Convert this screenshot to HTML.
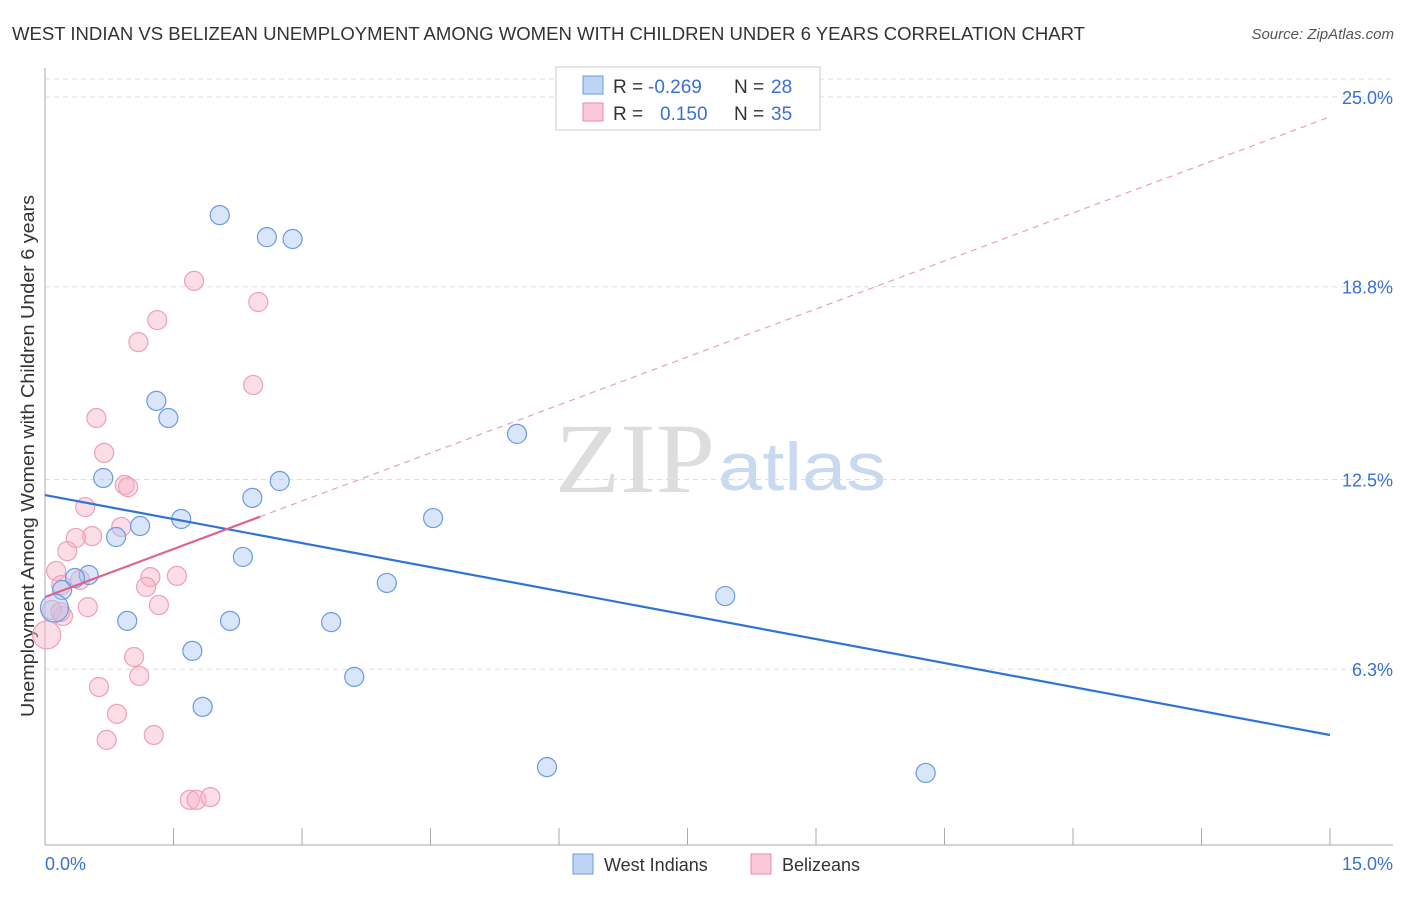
<!DOCTYPE html>
<html><head><meta charset="utf-8"><style>
body{margin:0;background:#fff;font-family:"Liberation Sans",sans-serif}
svg text{font-family:"Liberation Sans",sans-serif}
</style></head><body>
<svg id="c" width="1406" height="892">
<text x="12" y="40" font-size="18" fill="#333" textLength="1073" lengthAdjust="spacingAndGlyphs">WEST INDIAN VS BELIZEAN UNEMPLOYMENT AMONG WOMEN WITH CHILDREN UNDER 6 YEARS CORRELATION CHART</text>
<text x="1394" y="39" font-size="15" fill="#555" text-anchor="end" font-style="italic">Source: ZipAtlas.com</text>
<text x="555" y="492" font-size="100" fill="#ddd" textLength="160" lengthAdjust="spacingAndGlyphs" style="font-family:'Liberation Serif',serif">ZIP</text>
<text x="718" y="490" font-size="68" fill="#c9d9ef" textLength="168" lengthAdjust="spacingAndGlyphs">atlas</text>
<text transform="translate(34,456) rotate(-90)" font-size="18" fill="#333" text-anchor="middle" textLength="522" lengthAdjust="spacingAndGlyphs">Unemployment Among Women with Children Under 6 years</text>
<g id="grid"></g><g id="marks"></g>
<g>
<rect x="556" y="67" width="264" height="63" fill="#fff" stroke="#ccc"/>
<rect x="583" y="76" width="20" height="18" fill="#bdd4f5" stroke="#6b9ae0"/>
<rect x="583" y="103" width="20" height="18" fill="#f9c9d7" stroke="#e88aa8"/>
<text x="613" y="93" font-size="19" fill="#333">R =</text>
<text x="648" y="93" font-size="19" fill="#3a70d0">-0.269</text>
<text x="734" y="93" font-size="19" fill="#333">N =</text>
<text x="771" y="93" font-size="19" fill="#3a70d0">28</text>
<text x="613" y="120" font-size="19" fill="#333">R =</text>
<text x="660" y="120" font-size="19" fill="#3a70d0">0.150</text>
<text x="734" y="120" font-size="19" fill="#333">N =</text>
<text x="771" y="120" font-size="19" fill="#3a70d0">35</text>
</g>
<g>
<rect x="573" y="854" width="20" height="20" fill="#bdd4f5" stroke="#6b9ae0"/>
<text x="604" y="871" font-size="18" fill="#333">West Indians</text>
<rect x="751" y="854" width="20" height="20" fill="#f9c9d7" stroke="#e88aa8"/>
<text x="782" y="871" font-size="18" fill="#333">Belizeans</text>
</g>
</svg>
<script>
const xTicks=[0,15];
const yTicks=[25.0,18.8,12.5,6.3];
const blueX=[2.04,2.59,2.89,1.30,1.44,5.51,0.68,2.74,2.42,1.59,4.53,1.11,0.83,2.31,0.51,0.35,3.99,0.20,7.94,0.96,2.16,3.34,0.11,1.72,3.61,1.84,5.86,10.28];
const blueY=[21.14,20.42,20.36,15.07,14.51,13.99,12.55,12.45,11.90,11.21,11.24,10.98,10.62,9.97,9.38,9.28,9.12,8.89,8.69,7.88,7.88,7.84,8.30,6.90,6.05,5.07,3.10,2.91];
const pinkX=[1.74,2.49,1.31,1.09,2.43,0.60,0.69,0.93,0.97,0.47,0.89,0.55,0.36,0.26,0.13,1.23,1.54,0.19,1.18,0.41,0.50,1.33,0.21,0.08,0.02,1.04,1.10,0.63,0.84,0.72,1.27,1.69,1.77,1.93,0.18];
const pinkY=[18.99,18.30,17.71,16.99,15.59,14.51,13.37,12.32,12.25,11.60,10.95,10.65,10.59,10.16,9.51,9.31,9.35,9.05,8.99,9.22,8.33,8.40,8.04,8.24,7.42,6.70,6.08,5.72,4.84,3.99,4.15,2.03,2.03,2.12,8.17];
const blueTrend=[11.99,4.15];
const pinkTrend=[8.66,24.35];
const ns="http://www.w3.org/2000/svg";
const X=v=>45+v/15*1285, Y=v=>97+(25-v)*30.6;
function mk(t,a,p){const e=document.createElementNS(ns,t);for(const k in a)e.setAttribute(k,a[k]);p.appendChild(e);return e;}
const g=document.getElementById('grid'),m=document.getElementById('marks');
mk('line',{x1:45,y1:79,x2:1393,y2:79,stroke:'#ddd','stroke-dasharray':'5,4'},g);
yTicks.forEach(t=>{mk('line',{x1:45,y1:Y(t),x2:1393,y2:Y(t),stroke:'#ddd','stroke-dasharray':'5,4'},g);
const tx=mk('text',{x:1393,y:Y(t)+7,'font-size':18,fill:'#3a70d0','text-anchor':'end'},g);tx.textContent=t.toFixed(1)+'%';

});
mk('line',{x1:45,y1:68,x2:45,y2:845,stroke:'#aaa'},g);
mk('line',{x1:45,y1:845,x2:1393,y2:845,stroke:'#aaa'},g);
for(let i=0;i<=10;i++){mk('line',{x1:X(i*1.5),y1:828,x2:X(i*1.5),y2:845,stroke:'#aaa'},g);}
xTicks.forEach((t,i)=>{const tx=mk('text',{x:i?1393:45,y:870,'font-size':18,fill:'#3a70d0','text-anchor':i?'end':'start'},g);tx.textContent=t.toFixed(1)+'%';

});
pinkX.forEach((v,i)=>{const c=mk('circle',{cx:X(v),cy:Y(pinkY[i]),r:i==24?14:9.5,fill:'rgba(247,180,200,0.45)',stroke:'#eea0b8','stroke-width':1.2},m);

});
blueX.forEach((v,i)=>{const c=mk('circle',{cx:X(v),cy:Y(blueY[i]),r:i==22?14:9.5,fill:'rgba(170,200,245,0.45)',stroke:'#6b9ae0','stroke-width':1.2},m);

});
const bl=mk('line',{x1:X(0),y1:Y(blueTrend[0]),x2:X(15),y2:Y(blueTrend[1]),stroke:'#2f73d6','stroke-width':2.2},m);


const pe=2.51, pv=pinkTrend[0]+(pinkTrend[1]-pinkTrend[0])*pe/15;
const pd=mk('line',{x1:X(pe),y1:Y(pv),x2:X(15),y2:Y(pinkTrend[1]),stroke:'#eaa0b8','stroke-width':1.2,'stroke-dasharray':'6,5'},m);


const pl=mk('line',{x1:X(0),y1:Y(pinkTrend[0]),x2:X(pe),y2:Y(pv),stroke:'#e06090','stroke-width':2.2},m);


</script>
</body></html>
